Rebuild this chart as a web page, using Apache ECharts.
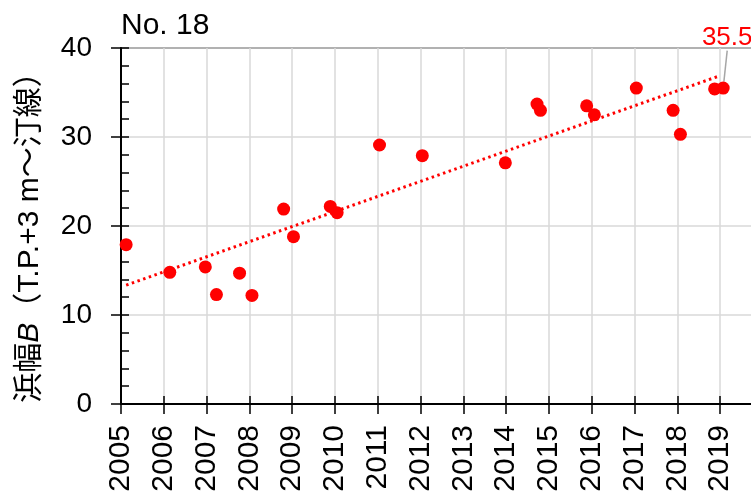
<!DOCTYPE html>
<html>
<head>
<meta charset="utf-8">
<script src="https://cdn.jsdelivr.net/npm/echarts@6/dist/echarts.min.js"></script>
<style>html,body{margin:0;padding:0;background:#fff}#c{width:751px;height:500px}</style>
</head>
<body>
<div id="c"></div>
<script>
// Survey dates (decimal years) and beach width B (m)
const years = [2005.12, 2006.14, 2006.97, 2007.23, 2007.77, 2008.06, 2008.80, 2009.03, 2009.89, 2010.05, 2011.04, 2012.04, 2013.98, 2014.72, 2014.80, 2015.88, 2016.06, 2017.04, 2017.90, 2018.07, 2018.87, 2019.07];
const widths = [17.9, 14.8, 15.4, 12.3, 14.7, 12.2, 21.9, 18.8, 22.2, 21.5, 29.1, 27.9, 27.1, 33.7, 33.0, 33.5, 32.5, 35.5, 33.0, 30.3, 35.4, 35.5];
const titleText = 'No. 18';
const labelText = '35.5';

const FONT = "'Liberation Sans', Arial, 'Noto Sans CJK JP', sans-serif";

// linear trend (least squares) from the data
const n = years.length;
let sx = 0, sy = 0, sxx = 0, sxy = 0;
for (let i = 0; i < n; i++) { sx += years[i]; sy += widths[i]; sxx += years[i] * years[i]; sxy += years[i] * widths[i]; }
const slope = (n * sxy - sx * sy) / (n * sxx - sx * sx);
const icpt = (sy - slope * sx) / n;
const xmin = Math.min(...years), xmax = 2019.0;
const trend = [[xmin, icpt + slope * xmin], [xmax, icpt + slope * xmax]];

const pts = years.map((y, i) => [y, widths[i]]);
const last = pts.length - 1;
const scatterData = pts.map((p, i) => {
  if (i !== last) return p;
  return {
    value: p,
    label: { show: true, position: 'top', formatter: labelText, color: '#ff0000', fontSize: 26, fontFamily: FONT },
    labelLine: { show: true, lineStyle: { color: '#a6a6a6', width: 1.5 } }
  };
});

const chart = echarts.init(document.getElementById('c'), null, { renderer: 'canvas' });
chart.setOption({
  animation: false,
  backgroundColor: '#ffffff',
  title: {
    text: titleText, left: 116, top: 6,
    textStyle: { fontSize: 30, fontWeight: 'normal', color: '#000', fontFamily: FONT }
  },
  grid: { left: 121, top: 48, width: 642, height: 356, outerBoundsMode: 'none', containLabel: false, show: true, borderColor: '#000', borderWidth: 1.3, backgroundColor: 'transparent' },
  xAxis: [{
    type: 'value', min: 2005, max: 2020, interval: 1, position: 'bottom',
    axisLine: { show: true, onZero: false, lineStyle: { color: '#000', width: 2 } },
    axisTick: { show: true, inside: false, length: 10, lineStyle: { color: '#000', width: 1.5 } },
    axisLabel: { rotate: 90, margin: 21, fontSize: 30, color: '#000', fontFamily: FONT, formatter: v => String(v) },
    splitLine: { show: true, lineStyle: { color: '#d9d9d9', width: 1.5 } }
  }, {
    type: 'value', min: 2005, max: 2020, interval: 1, position: 'bottom',
    axisLine: { show: false },
    axisTick: { show: true, inside: true, length: 8, lineStyle: { color: '#000', width: 1.5 } },
    axisLabel: { show: false },
    splitLine: { show: false }
  }],
  yAxis: [{
    type: 'value', min: 0, max: 40, interval: 10, position: 'left',
    name: '浜幅{i|B}（T.P.+3 m～汀線）',
    nameLocation: 'middle', nameRotate: 90, nameGap: 76,
    nameTextStyle: {
      fontSize: 30, color: '#000', fontFamily: FONT, padding: [0, 8, 0, 0],
      rich: { i: { fontSize: 30, fontStyle: 'italic', color: '#000', fontFamily: FONT } }
    },
    axisLine: { show: true, onZero: false, lineStyle: { color: '#000', width: 2 } },
    axisTick: { show: true, inside: false, length: 10, lineStyle: { color: '#000', width: 1.5 } },
    axisLabel: { margin: 29, fontSize: 28, color: '#000', fontFamily: FONT, padding: [6, 0, 0, 0] },
    splitLine: { show: true, lineStyle: { color: '#d9d9d9', width: 1.5 } }
  }, {
    type: 'value', min: 0, max: 40, interval: 2, position: 'left',
    axisLine: { show: false },
    axisTick: { show: true, inside: true, length: 8, lineStyle: { color: '#000', width: 1.5 } },
    axisLabel: { show: false },
    splitLine: { show: false }
  }],
  series: [{
    type: 'line', xAxisIndex: 0, yAxisIndex: 0, data: trend, symbol: 'none', z: 2,
    lineStyle: { color: '#ff0000', width: 3, type: [2.5, 3.5] }
  }, {
    type: 'scatter', xAxisIndex: 0, yAxisIndex: 0, data: scatterData, symbol: 'circle', symbolSize: 13, z: 3,
    itemStyle: { color: '#ff0000', opacity: 1 },
    labelLine: { show: true, lineStyle: { color: '#a6a6a6', width: 1.5 } },
    labelLayout: function (params) {
      if (params.dataIndex !== last) return {};
      return { dx: 4, dy: -26, hideOverlap: false };
    }
  }]
});
</script>
</body>
</html>
